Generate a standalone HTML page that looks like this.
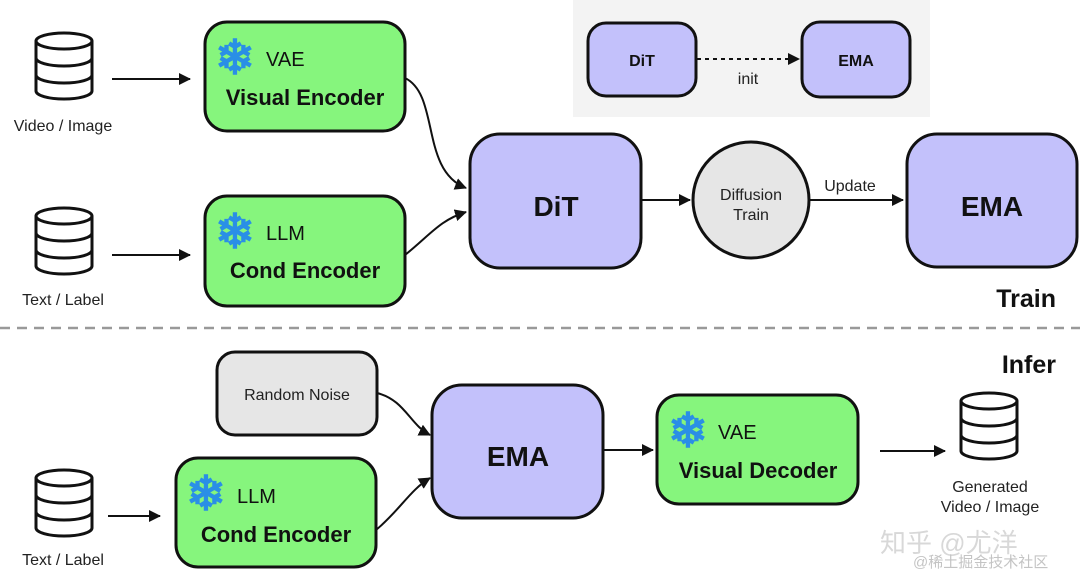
<!DOCTYPE html>
<html><head><meta charset="utf-8"><style>
html,body{margin:0;padding:0;background:#fff;}
svg{display:block;font-family:"Liberation Sans","Noto Sans CJK SC",sans-serif;}
</style></head><body>
<svg width="1080" height="575" viewBox="0 0 1080 575" xmlns="http://www.w3.org/2000/svg">
<defs>
<marker id="ah" markerWidth="12" markerHeight="12" refX="11" refY="6" orient="auto" markerUnits="userSpaceOnUse">
<path d="M0,0 L12,6 L0,12 z" fill="#111"/></marker>
<g id="db" fill="#fff" stroke="#111" stroke-width="3">
<path d="M0,8 v50 a28,8 0 0 0 56,0 v-50"/>
<ellipse cx="28" cy="8" rx="28" ry="8"/>
<path d="M0,25 a28,8 0 0 0 56,0 M0,42 a28,8 0 0 0 56,0" fill="none"/>
</g>
</defs>
<rect x="573" y="0" width="357" height="117" fill="#f3f3f3"/>
<use href="#db" x="36" y="33"/>
<use href="#db" x="36" y="208"/>
<use href="#db" x="36" y="470"/>
<use href="#db" x="961" y="393"/>
<g font-size="16" fill="#222" text-anchor="middle">
<text x="63" y="131">Video / Image</text>
<text x="63" y="305">Text / Label</text>
<text x="63" y="565">Text / Label</text>
<text x="990" y="492">Generated</text>
<text x="990" y="512">Video / Image</text>
</g>
<g stroke="#111" stroke-width="2" fill="none" marker-end="url(#ah)">
<line x1="112" y1="79" x2="190" y2="79"/>
<line x1="112" y1="255" x2="190" y2="255"/>
<line x1="108" y1="516" x2="160" y2="516"/>
<line x1="880" y1="451" x2="945" y2="451"/>
<line x1="641" y1="200" x2="690" y2="200"/>
<line x1="810" y1="200" x2="903" y2="200"/>
<line x1="603" y1="450" x2="653" y2="450"/>
<path d="M405,78 C440,95 420,170 466,188"/>
<path d="M405,255 C430,235 440,220 466,212"/>
<path d="M377,393 C405,400 410,425 430,435"/>
<path d="M376,530 C400,510 410,490 430,478"/>
<line x1="697" y1="59" x2="799" y2="59" stroke-dasharray="4,4"/>
</g>
<g fill="#86f57d" stroke="#111" stroke-width="3">
<rect x="205" y="22" width="200" height="109" rx="22"/>
<rect x="205" y="196" width="200" height="110" rx="22"/>
<rect x="176" y="458" width="200" height="109" rx="22"/>
<rect x="657" y="395" width="201" height="109" rx="22"/>
</g>
<g fill="#c3c1fb" stroke="#111" stroke-width="3">
<rect x="470" y="134" width="171" height="134" rx="30"/>
<rect x="907" y="134" width="170" height="133" rx="30"/>
<rect x="432" y="385" width="171" height="133" rx="30"/>
<rect x="588" y="23" width="108" height="73" rx="18"/>
<rect x="802" y="22" width="108" height="75" rx="18"/>
</g>
<circle cx="751" cy="200" r="58" fill="#e6e6e6" stroke="#111" stroke-width="3"/>
<rect x="217" y="352" width="160" height="83" rx="18" fill="#e6e6e6" stroke="#111" stroke-width="3"/>
<g font-family="DejaVu Sans" font-size="48" fill="#2a8fe6" text-anchor="middle" stroke="#2a8fe6" stroke-width="1.5">
<text x="235" y="74">❄</text>
<text x="235" y="248">❄</text>
<text x="206" y="510">❄</text>
<text x="688" y="447">❄</text>
</g>
<g font-size="20" fill="#111">
<text x="266" y="66">VAE</text>
<text x="266" y="240">LLM</text>
<text x="237" y="503">LLM</text>
<text x="718" y="439">VAE</text>
</g>
<g font-size="22" font-weight="bold" fill="#111" text-anchor="middle">
<text x="305" y="105">Visual Encoder</text>
<text x="305" y="278">Cond Encoder</text>
<text x="276" y="542">Cond Encoder</text>
<text x="758" y="478">Visual Decoder</text>
</g>
<g font-size="28" font-weight="bold" fill="#111" text-anchor="middle">
<text x="556" y="216">DiT</text>
<text x="992" y="216">EMA</text>
<text x="518" y="466">EMA</text>
</g>
<g font-size="16" font-weight="bold" fill="#111" text-anchor="middle">
<text x="642" y="66">DiT</text>
<text x="856" y="66">EMA</text>
</g>
<g font-size="16" fill="#222" text-anchor="middle">
<text x="751" y="200">Diffusion</text>
<text x="751" y="220">Train</text>
<text x="850" y="191">Update</text>
<text x="748" y="84">init</text>
<text x="297" y="400">Random Noise</text>
</g>
<g font-size="25" font-weight="bold" fill="#111" text-anchor="end">
<text x="1056" y="307">Train</text>
<text x="1056" y="373">Infer</text>
</g>
<line x1="0" y1="328" x2="1080" y2="328" stroke="#999" stroke-width="2.5" stroke-dasharray="10,7"/>
<text x="880" y="552" font-size="26" fill="#d8d8d8">知乎 @尤洋</text>
<text x="913" y="567" font-size="15" fill="#c4c4c4">@稀土掘金技术社区</text>
</svg>
</body></html>
